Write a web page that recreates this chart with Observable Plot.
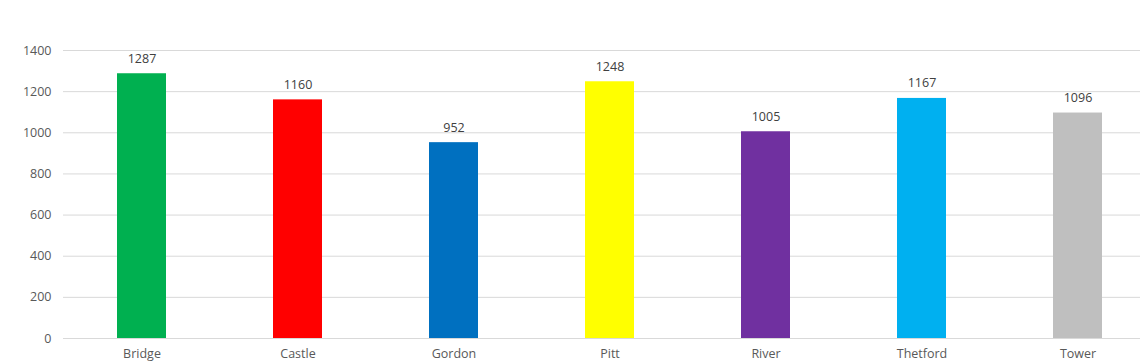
<!DOCTYPE html>
<html><head><meta charset="utf-8">
<script src="https://cdn.jsdelivr.net/npm/d3@7"></script>
<script src="https://cdn.jsdelivr.net/npm/@observablehq/plot@0.6"></script>
<style>body{margin:0;background:#fff;} svg{font-family:"Open Sans",sans-serif;}</style>
</head><body><div id="chart"></div>
<script>
const categories = ["Bridge","Castle","Gordon","Pitt","River","Thetford","Tower"];
const values = [1287,1160,952,1248,1005,1167,1096];
const colors = ["#00B050","#FF0000","#0070C0","#FFFF00","#7030A0","#00B0F0","#BFBFBF"];
const yTicks = [0,200,400,600,800,1000,1200,1400];
const data = categories.map((c,i)=>({cat:c, v:values[i]}));
const chart = Plot.plot({
  width:1140, height:363,
  marginLeft:63, marginRight:0, marginTop:50, marginBottom:25,
  style:{fontFamily:"Open Sans, sans-serif", fontSize:"12px", background:"#fff"},
  x:{domain:categories, range:[63,1156], paddingInner:0.686, paddingOuter:0.343, label:null},
  y:{domain:[0,1400], range:[338,50], label:null},
  color:{domain:categories, range:colors},
  marks:[
    Plot.ruleY(yTicks,{stroke:"#d9d9d9",strokeWidth:1}),
    Plot.barY(data,{x:"cat",y:"v",fill:"cat"}),
    Plot.text(data,{x:"cat",y:"v",text:d=>String(d.v),dy:-15,fill:"#404040",fontSize:12.5}),
    Plot.axisY({ticks:yTicks, tickSize:0, tickPadding:12, tickFormat:d=>String(d), fill:"#595959", fontSize:12.5, label:null}),
    Plot.axisX({tickSize:0, tickPadding:11, fill:"#595959", fontSize:12.5, label:null})
  ]
});
document.getElementById("chart").appendChild(chart);
</script></body></html>
